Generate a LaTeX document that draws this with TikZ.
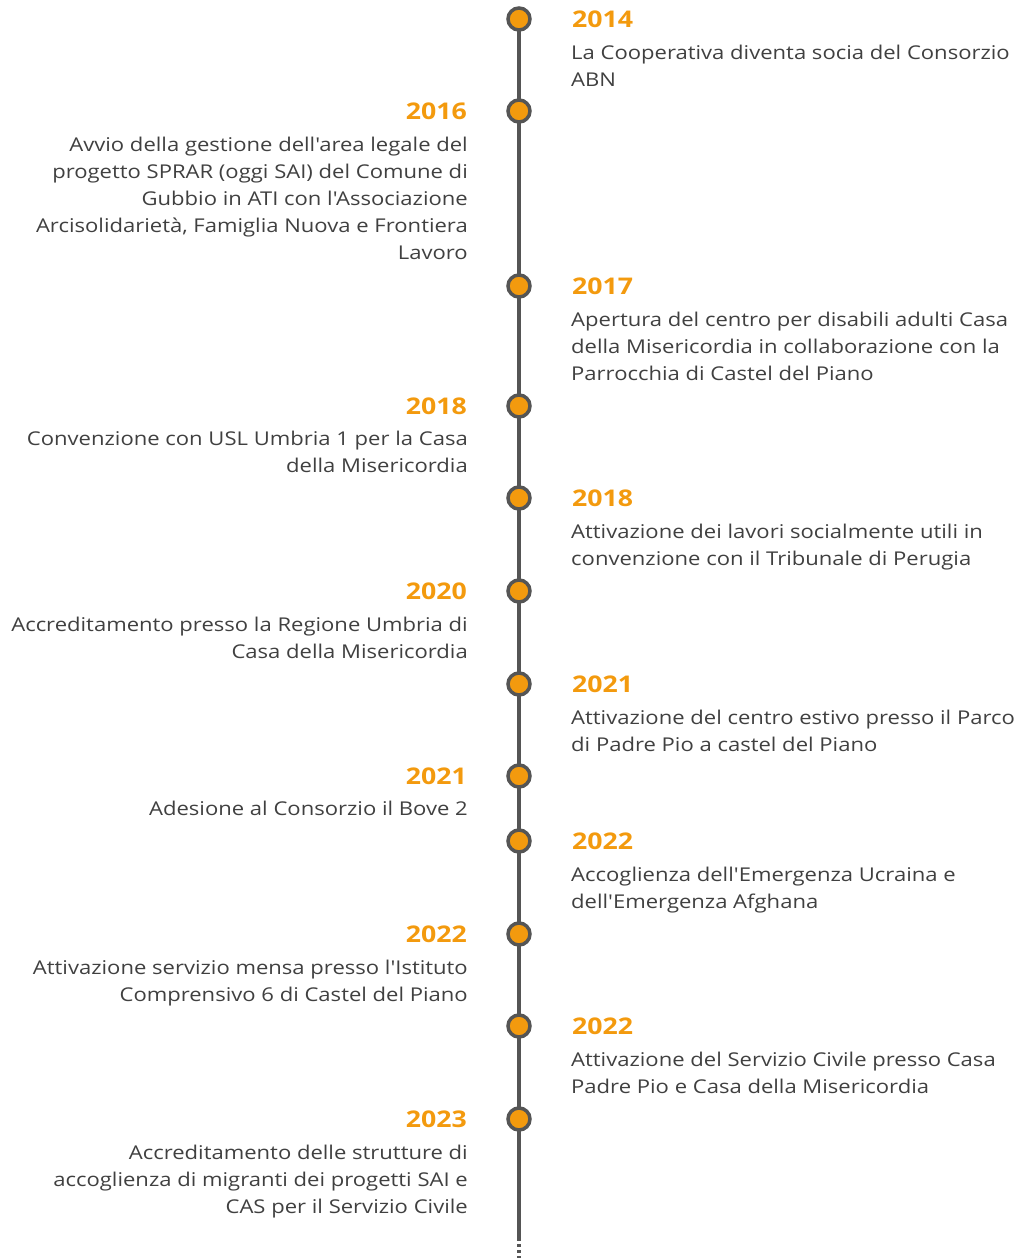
\documentclass[tikz,border=0pt]{standalone}
\usepackage{fontspec}
\newfontfamily\bodyfont{Open Sans}[FakeStretch=1.16]
\definecolor{orng}{HTML}{F39A0E}
\definecolor{linegray}{HTML}{555555}
\definecolor{txtgray}{HTML}{404040}
\tikzset{
  dot/.style={circle,fill=orng,draw=linegray,line width=3.5pt,minimum size=22pt,inner sep=0pt},
  yearR/.style={anchor=west,inner sep=0pt,text=orng,font={\bodyfont\bfseries\fontsize{23}{27}\selectfont}},
  yearL/.style={anchor=east,inner sep=0pt,text=orng,font={\bodyfont\bfseries\fontsize{23}{27}\selectfont}},
  descR/.style={anchor=north west,inner sep=0pt,align=left,text=txtgray,font={\bodyfont\fontsize{19}{27}\selectfont}},
  descL/.style={anchor=north east,inner sep=0pt,align=right,text=txtgray,font={\bodyfont\fontsize{19}{27}\selectfont}},
  spine/.style={draw=linegray,line width=4.5pt},
}
\begin{document}
\begin{tikzpicture}[x=1pt,y=-1pt]
\useasboundingbox (0,0) rectangle (1018,1258);
\coordinate (top) at (519,19);
\coordinate (solidend) at (519,1238);
\coordinate (bottom) at (519,1258);
\draw[spine] (top) -- (solidend);
\draw[draw=linegray,line width=4.5pt,dash pattern=on 3pt off 3pt] (solidend) -- (bottom);
% events
\node[dot] (d1) at (519,19) {};
\node[yearR] (y1) at (572,19) {2014};
\node[descR] (t1) at (571,45) {La Cooperativa diventa socia del Consorzio\\ABN};
\node[dot] (d2) at (519,111) {};
\node[yearL] (y2) at (467,111) {2016};
\node[descL] (t2) at (468,137) {Avvio della gestione dell'area legale del\\progetto SPRAR (oggi SAI) del Comune di\\Gubbio in ATI con l'Associazione\\Arcisolidarietà, Famiglia Nuova e Frontiera\\Lavoro};
\node[dot] (d3) at (519,286) {};
\node[yearR] (y3) at (572,286) {2017};
\node[descR] (t3) at (571,312) {Apertura del centro per disabili adulti Casa\\della Misericordia in collaborazione con la\\Parrocchia di Castel del Piano};
\node[dot] (d4) at (519,406) {};
\node[yearL] (y4) at (467,406) {2018};
\node[descL] (t4) at (468,431) {Convenzione con USL Umbria 1 per la Casa\\della Misericordia};
\node[dot] (d5) at (519,498) {};
\node[yearR] (y5) at (572,498) {2018};
\node[descR] (t5) at (571,524) {Attivazione dei lavori socialmente utili in\\convenzione con il Tribunale di Perugia};
\node[dot] (d6) at (519,591) {};
\node[yearL] (y6) at (467,591) {2020};
\node[descL] (t6) at (468,617) {Accreditamento presso la Regione Umbria di\\Casa della Misericordia};
\node[dot] (d7) at (519,684) {};
\node[yearR] (y7) at (572,684) {2021};
\node[descR] (t7) at (571,710) {Attivazione del centro estivo presso il Parco\\di Padre Pio a castel del Piano};
\node[dot] (d8) at (519,776) {};
\node[yearL] (y8) at (467,776) {2021};
\node[descL] (t8) at (468,801) {Adesione al Consorzio il Bove 2};
\node[dot] (d9) at (519,841) {};
\node[yearR] (y9) at (572,841) {2022};
\node[descR] (t9) at (571,867) {Accoglienza dell'Emergenza Ucraina e\\dell'Emergenza Afghana};
\node[dot] (d10) at (519,934) {};
\node[yearL] (y10) at (467,934) {2022};
\node[descL] (t10) at (468,960) {Attivazione servizio mensa presso l'Istituto\\Comprensivo 6 di Castel del Piano};
\node[dot] (d11) at (519,1026) {};
\node[yearR] (y11) at (572,1026) {2022};
\node[descR] (t11) at (571,1052) {Attivazione del Servizio Civile presso Casa\\Padre Pio e Casa della Misericordia};
\node[dot] (d12) at (519,1119) {};
\node[yearL] (y12) at (467,1119) {2023};
\node[descL] (t12) at (468,1145) {Accreditamento delle strutture di\\accoglienza di migranti dei progetti SAI e\\CAS per il Servizio Civile};
\end{tikzpicture}
\end{document}
